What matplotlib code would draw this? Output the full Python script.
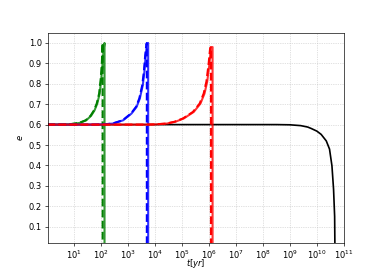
import matplotlib
matplotlib.use("Agg")
import matplotlib.pyplot as plt
import numpy as np

# log10(t/yr) and eccentricity
green_logt = [0.0, 0.5, 0.81, 1.19, 1.44, 1.62, 1.75, 1.85, 1.94, 2.0, 2.05, 2.08, 2.12, 2.12]
green_e = [0.600, 0.600, 0.601, 0.608, 0.621, 0.643, 0.670, 0.703, 0.752, 0.826, 0.900, 0.960, 1.000, 0.0]
green_d_logt = [0.0, 0.5, 0.79, 1.17, 1.42, 1.60, 1.73, 1.83, 1.92, 1.98, 2.02, 2.04, 2.05, 2.05]
green_d_e = [0.600, 0.600, 0.601, 0.608, 0.621, 0.643, 0.670, 0.703, 0.752, 0.826, 0.900, 0.960, 1.000, 0.0]

blue_logt = [0.0, 1.7, 2.1, 2.43, 2.81, 3.12, 3.31, 3.43, 3.54, 3.60, 3.65, 3.70, 3.74, 3.74]
blue_e = [0.600, 0.600, 0.601, 0.605, 0.621, 0.654, 0.687, 0.728, 0.793, 0.859, 0.940, 0.990, 1.000, 0.0]
blue_d_logt = [0.0, 1.7, 2.08, 2.41, 2.79, 3.10, 3.29, 3.41, 3.52, 3.58, 3.63, 3.67, 3.69, 3.69]
blue_d_e = [0.600, 0.600, 0.601, 0.605, 0.621, 0.654, 0.687, 0.728, 0.793, 0.859, 0.940, 0.990, 1.000, 0.0]

red_logt = [0.0, 3.6, 4.0, 4.43, 4.75, 5.06, 5.43, 5.68, 5.83, 5.93, 6.01, 6.07, 6.13, 6.13]
red_e = [0.600, 0.600, 0.601, 0.605, 0.614, 0.630, 0.662, 0.703, 0.752, 0.810, 0.893, 0.975, 0.980, 0.0]
red_d_logt = [0.0, 3.6, 3.98, 4.41, 4.72, 5.03, 5.40, 5.65, 5.80, 5.90, 5.98, 6.04, 6.07, 6.07]
red_d_e = [0.600, 0.600, 0.601, 0.605, 0.614, 0.630, 0.662, 0.703, 0.752, 0.810, 0.893, 0.975, 0.980, 0.0]

black_logt = [0.0, 8.5, 9.0, 9.4, 9.66, 9.79, 10.0, 10.16, 10.35, 10.47, 10.56, 10.62, 10.66, 10.67]
black_e = [0.600, 0.600, 0.599, 0.595, 0.588, 0.581, 0.568, 0.552, 0.520, 0.480, 0.398, 0.283, 0.150, 0.0]

fig, ax = plt.subplots(figsize=(382 / 60, 273 / 60), dpi=60)

ax.plot(10 ** np.array(black_logt), black_e, color='k', lw=2)
for logt, e, dlogt, de, c in [(green_logt, green_e, green_d_logt, green_d_e, 'g'),
                              (blue_logt, blue_e, blue_d_logt, blue_d_e, 'b'),
                              (red_logt, red_e, red_d_logt, red_d_e, 'r')]:
    ax.plot(10 ** np.array(logt), e, color=c, lw=2.5, alpha=0.8)
    ax.plot(10 ** np.array(dlogt), de, color=c, lw=2.5, ls='--')

ax.set_xscale('log')
ax.set_xlim(1.03, 1e11)
ax.set_ylim(0.02, 1.05)
ax.set_xticks([10.0 ** k for k in range(1, 12)])
ax.xaxis.set_minor_locator(matplotlib.ticker.NullLocator())
ax.set_yticks(np.arange(0.1, 1.01, 0.1))
ax.grid(True, ls=':', color='0.75', lw=0.8)
ax.set_xlabel('$t[yr]$', labelpad=-5)
ax.set_ylabel('$e$')

fig.savefig('out.png', dpi=60)
